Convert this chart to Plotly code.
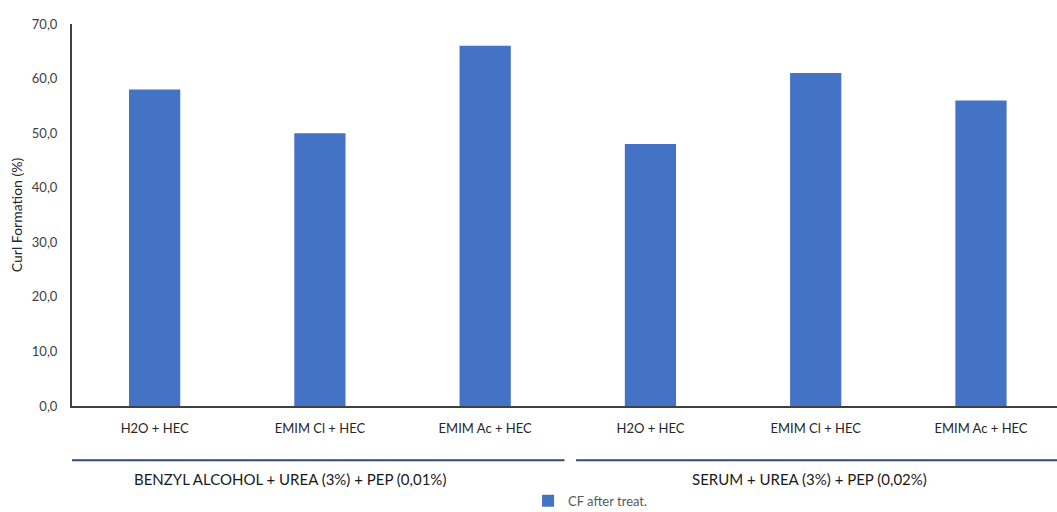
import plotly.graph_objects as go

# Treatments and curl formation values (%)
treatments = ["H2O + HEC", "EMIM Cl + HEC", "EMIM Ac + HEC",
              "H2O + HEC", "EMIM Cl + HEC", "EMIM Ac + HEC"]
cf_after = [58.0, 50.0, 66.0, 48.0, 61.0, 56.0]
groups = ["BENZYL ALCOHOL + UREA (3%) + PEP (0,01%)",
          "SERUM + UREA (3%) + PEP (0,02%)"]
y_ticks = [0, 10, 20, 30, 40, 50, 60, 70]

positions = list(range(len(treatments)))

fig = go.Figure()
fig.add_trace(go.Bar(
    x=positions,
    y=cf_after,
    name="CF after treat.",
    marker=dict(color="#4472C4", line=dict(width=0)),
    width=0.31,
))

font_family = "Lato, 'Open Sans', sans-serif"
fig.update_layout(
    width=1057, height=512,
    margin=dict(l=72, r=0, t=24, b=106, autoexpand=False),
    plot_bgcolor="white", paper_bgcolor="white",
    separators=",.",
    font=dict(family=font_family, color="#404040", size=12),
    bargap=0.69,
    showlegend=True,
    legend=dict(orientation="h", x=0.463, xanchor="left", y=-0.248,
                yanchor="middle", font=dict(size=13, color="#595959"),
                itemwidth=30, tracegroupgap=0),
    xaxis=dict(
        range=[-0.5, 5.46],
        tickmode="array", tickvals=positions, ticktext=treatments,
        showline=True, linecolor="#404040", linewidth=2,
        ticks="", showgrid=False, zeroline=False,
        tickfont=dict(size=13, color="#262626"),
        ticklabelstandoff=9,
    ),
    yaxis=dict(
        range=[0, 70],
        tickmode="array", tickvals=y_ticks, tickformat=".1f",
        showline=True, linecolor="#404040", linewidth=2,
        ticks="", showgrid=False, zeroline=False,
        tickfont=dict(size=13, color="#404040"),
        ticklabelstandoff=10,
        title=dict(text="Curl Formation (%)", font=dict(size=14, color="#262626"),
                   standoff=6),
    ),
)

# Group brackets beneath the category labels
group_spans = [(-0.52, 2.48), (2.55, 5.46)]
label_centers = [0.82, 3.96]
for (x0, x1), xc, label in zip(group_spans, label_centers, groups):
    fig.add_shape(type="line", xref="x", yref="paper",
                  x0=x0, x1=x1, y0=-0.142, y1=-0.142,
                  line=dict(color="#2F4A7A", width=2))
    fig.add_annotation(xref="x", yref="paper", x=xc,
                       y=-0.19, text=label, showarrow=False,
                       font=dict(size=15, color="#1a1a1a"),
                       yanchor="middle")

fig.write_html("out.html")
